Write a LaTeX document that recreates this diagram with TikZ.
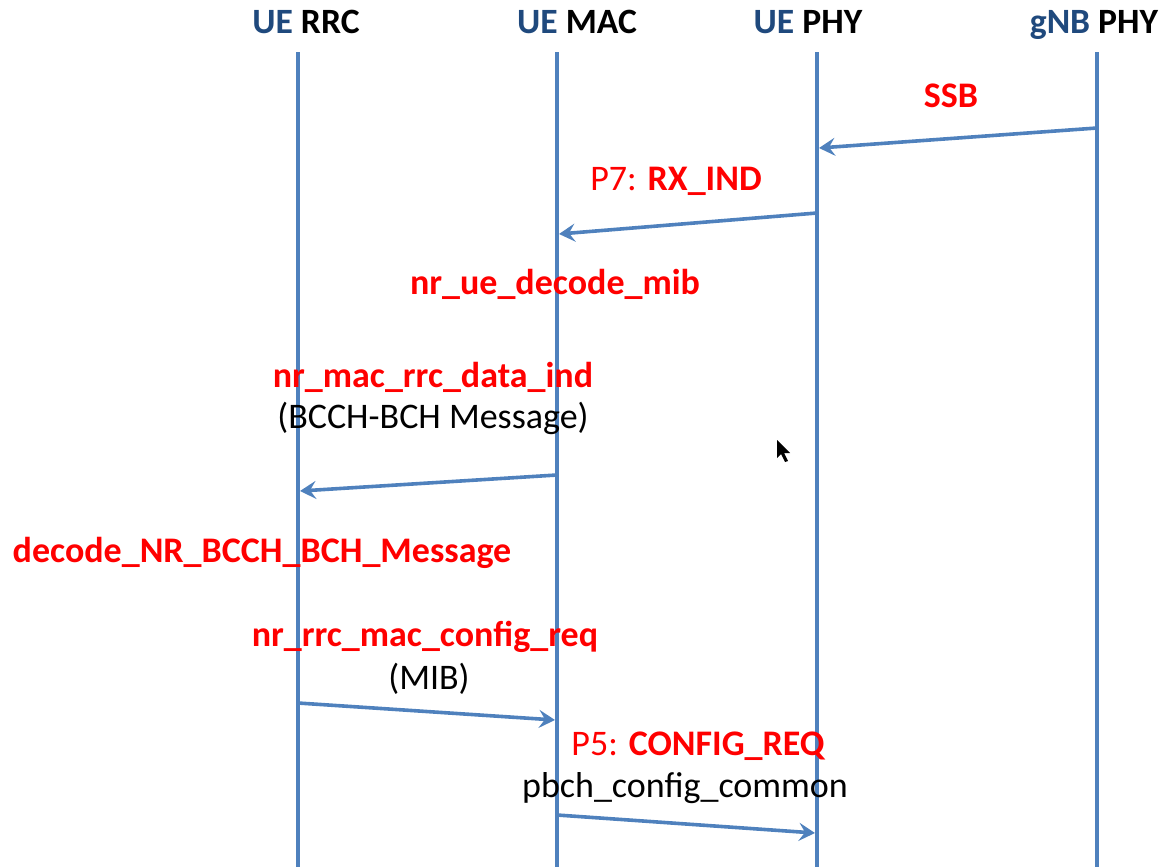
\documentclass[tikz,border=0pt]{standalone}
\usepackage{fontspec}
\setmainfont{Carlito}
\usetikzlibrary{arrows.meta}
\definecolor{lifeblue}{RGB}{79,129,189}
\definecolor{hdrblue}{RGB}{31,73,125}
\begin{document}
\begin{tikzpicture}[x=0.5pt,y=-0.5pt,
  life/.style={draw=lifeblue, line width=2pt},
  msg/.style={draw=lifeblue, line width=1.8pt, -{Stealth[length=8pt,width=9pt,inset=3pt]}},
  hdr/.style={font=\fontsize{17.8}{20}\selectfont\bfseries, inner sep=0, anchor=base},
  lbl/.style={font=\fontsize{18}{20}\selectfont\bfseries, text=red, inner sep=0, anchor=base},
  sub/.style={font=\fontsize{18}{20}\selectfont, text=black, inner sep=0, anchor=base}]
\useasboundingbox (0,0) rectangle (1167,867);
% headers
\node[hdr] (hRRC) at (306,33) {\textcolor{hdrblue}{UE} RRC};
\node[hdr] (hMAC) at (577,33) {\textcolor{hdrblue}{UE} MAC};
\node[hdr] (hPHY) at (808,33) {\textcolor{hdrblue}{UE} PHY};
\node[hdr] (hGNB) at (1094,33) {\textcolor{hdrblue}{gNB} PHY};
% lifelines
\coordinate (rrcT) at (298,52); \coordinate (rrcB) at (298,867);
\coordinate (macT) at (557,52); \coordinate (macB) at (557,867);
\coordinate (phyT) at (817,52); \coordinate (phyB) at (817,867);
\coordinate (gnbT) at (1097,52); \coordinate (gnbB) at (1097,867);
\draw[life] (rrcT) -- (rrcB);
\draw[life] (macT) -- (macB);
\draw[life] (phyT) -- (phyB);
\draw[life] (gnbT) -- (gnbB);
% message end points
\coordinate (m1s) at (1097,128); \coordinate (m1e) at (819,148);
\coordinate (m2s) at (817,213); \coordinate (m2e) at (559,234);
\coordinate (m3s) at (557,475); \coordinate (m3e) at (300,491);
\coordinate (m4s) at (298,703); \coordinate (m4e) at (555,720);
\coordinate (m5s) at (557,815); \coordinate (m5e) at (815,833);
\draw[msg] (m1s) -- (m1e);
\draw[msg] (m2s) -- (m2e);
\draw[msg] (m3s) -- (m3e);
\draw[msg] (m4s) -- (m4e);
\draw[msg] (m5s) -- (m5e);
% labels
\node[lbl] (lSSB) at (951,107) {SSB};
\node[lbl] (lRX) at (676,190) {\mdseries P7: \bfseries RX\_IND};
\node[lbl] (lMIB) at (555,294) {nr\_ue\_decode\_mib};
\node[lbl] (lDI) at (433,387) {nr\_mac\_rrc\_data\_ind};
\node[sub] (sDI) at (433,428) {(BCCH-BCH Message)};
\node[lbl] (lDEC) at (262,562) {decode\_NR\_BCCH\_BCH\_Message};
\node[lbl] (lCR) at (425,646) {nr\_rrc\_mac\_config\_req};
\node[sub] (sCR) at (429,689) {(MIB)};
\node[lbl] (lP5) at (698,755) {\mdseries P5: \bfseries CONFIG\_REQ};
\node[sub] (sP5) at (685,797) {pbch\_config\_common};
% mouse cursor
\fill[black] (777,440) -- (777,458) -- (781,454) -- (785,462) -- (788,461) -- (784,453) -- (790,453) -- cycle;
\end{tikzpicture}
\end{document}
